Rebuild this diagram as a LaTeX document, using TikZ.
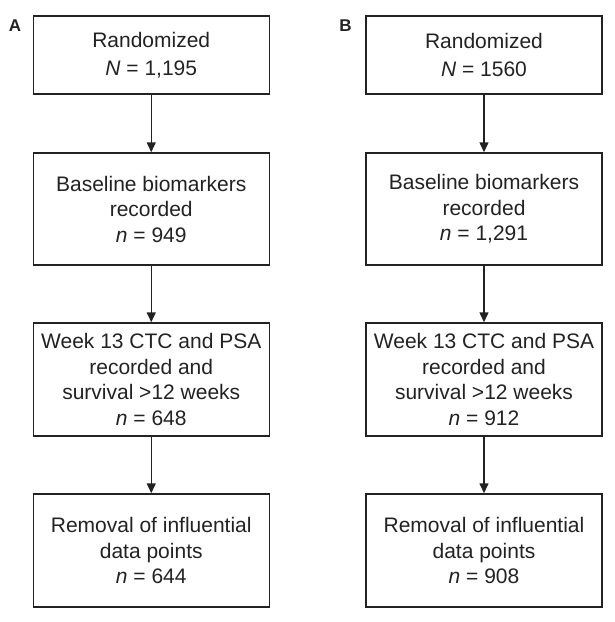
\documentclass[tikz,border=0pt]{standalone}
\usepackage{fontspec}
\setmainfont{Liberation Sans}
\usetikzlibrary{arrows.meta}
\definecolor{ink}{HTML}{222222}
\begin{document}
\begin{tikzpicture}[x=1pt,y=-1pt,
  box/.style={draw=ink, line width=1.5pt, text=ink, align=center, minimum width=236pt,
    inner sep=0pt, font=\fontsize{21}{25.5}\selectfont},
  conn/.style={draw=ink, line width=1.5pt, -{Triangle[width=9pt,length=10pt]}},
  panel/.style={text=ink, font=\fontsize{17}{20}\selectfont\bfseries, inner sep=0pt}]
\useasboundingbox (0,0) rectangle (614,622);
% Panel A
\node[panel] (la) at (15,26) {A};
\node[box, minimum height=78pt] (a1) at (151.25,55) {Randomized\\[2.5pt]\textit{N} = 1,195};
\node[box, minimum height=112pt] (a2) at (151.25,209) {Baseline biomarkers\\recorded\\\textit{n} = 949};
\node[box, minimum height=113pt] (a3) at (151.25,379.5) {Week 13 CTC and PSA\\recorded and\\survival >12 weeks\\\textit{n} = 648};
\node[box, minimum height=113pt] (a4) at (151.25,550.5) {Removal of influential\\data points\\\textit{n} = 644};
\draw[conn] (a1) -- (a2);
\draw[conn] (a2) -- (a3);
\draw[conn] (a3) -- (a4);
% Panel B
\node[panel] (lb) at (345.5,26) {B};
\node[box, minimum height=78pt] (b1) at (484,55) {Randomized\\[2.5pt]\textit{N} = 1560};
\node[box, minimum height=112pt] (b2) at (484,209) {Baseline biomarkers\\recorded\\\textit{n} = 1,291};
\node[box, minimum height=113pt] (b3) at (484,379.5) {Week 13 CTC and PSA\\recorded and\\survival >12 weeks\\\textit{n} = 912};
\node[box, minimum height=113pt] (b4) at (484,550.5) {Removal of influential\\data points\\\textit{n} = 908};
\draw[conn] (b1) -- (b2);
\draw[conn] (b2) -- (b3);
\draw[conn] (b3) -- (b4);
\end{tikzpicture}
\end{document}
